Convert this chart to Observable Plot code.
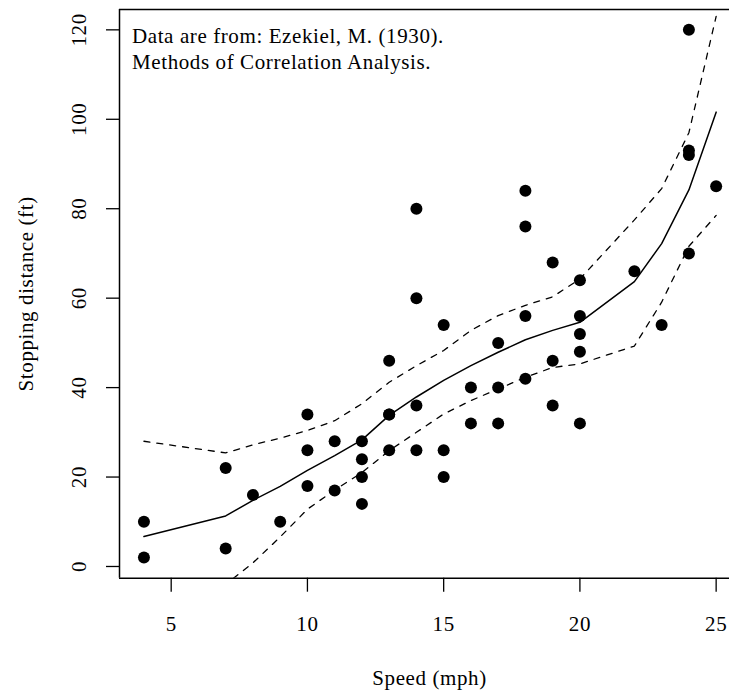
<!DOCTYPE html>
<html>
<head>
<meta charset="utf-8">
<script src="https://cdn.jsdelivr.net/npm/d3@7"></script>
<script src="https://cdn.jsdelivr.net/npm/@observablehq/plot@0.6"></script>
<style>
  html, body { margin: 0; padding: 0; background: #fff; overflow: hidden; }
  svg { display: block; }
  svg, svg text { font-family: "Liberation Serif", "DejaVu Serif", serif !important; letter-spacing: 0.6px; }
</style>
</head>
<body>
<div id="chart"></div>
<script>
// cars data (Ezekiel 1930)
const speed = [4,4,7,7,8,9,10,10,10,11,11,12,12,12,12,13,13,13,13,14,14,14,14,15,15,15,16,16,17,17,17,18,18,18,18,19,19,19,20,20,20,20,20,22,23,24,24,24,24,25];
const dist  = [2,10,4,22,16,10,18,26,34,17,28,14,20,24,28,26,34,34,46,26,36,60,80,20,26,54,32,40,32,40,50,42,56,76,84,36,46,68,32,48,52,56,64,66,54,70,92,93,120,85];

// smooth fit and band
const fitSpeed = [4,7,8,9,10,11,12,13,14,15,16,17,18,19,20,22,23,24,25];
const fitValue = [6.7,11.3,14.8,17.9,21.5,24.8,28.3,33.8,37.9,41.6,44.9,47.9,50.7,52.8,54.6,63.7,72.2,84.2,101.6];
const upperValue = [28.0,25.4,27.2,28.7,30.4,32.6,36.4,41.2,44.9,48.3,52.8,56.1,58.4,60.3,64.3,77.5,84.5,97.0,123.0];
const lowerValue = [-14.6,-4.0,0.8,6.6,12.8,17.1,21.0,25.9,30.0,34.1,37.1,39.7,42.3,44.5,45.3,49.3,59.1,71.6,78.5];

const xTicks = [5,10,15,20,25];
const yTicks = [0,20,40,60,80,100,120];

const points = speed.map((s, i) => ({speed: s, dist: dist[i]}));
const curve = fitSpeed.map((s, i) => ({speed: s, fit: fitValue[i], upper: upperValue[i], lower: lowerValue[i]}));

const xDomain = [3.103, 25.49];
const yDomain = [-2.62, 124.55];
const font = "Liberation Serif";
const fs = 21;

const chart = Plot.plot({
  width: 729,
  height: 693,
  marginLeft: 119,
  marginRight: 0,
  marginTop: 9,
  marginBottom: 115.3,
  style: {fontFamily: font, fontSize: fs + "px", background: "#fff", color: "#000"},
  x: {domain: xDomain, axis: null},
  y: {domain: yDomain, axis: null},
  marks: [
    // box (left, top, bottom)
    Plot.ruleX([xDomain[0]], {stroke: "#000", strokeWidth: 1.5}),
    Plot.ruleY([yDomain[0], yDomain[1]], {stroke: "#000", strokeWidth: 1.5}),
    // ticks
    Plot.axisX({ticks: xTicks, tickSize: 14, tickFormat: () => "", label: null, stroke: "#000", strokeWidth: 1.3}),
    Plot.axisY({ticks: yTicks, tickSize: 13, tickFormat: () => "", label: null, stroke: "#000", strokeWidth: 1.3}),
    // tick labels
    Plot.text(xTicks, {x: d => d, text: d => String(d), frameAnchor: "bottom", dy: 52.3, lineAnchor: "bottom", textAnchor: "middle", fontFamily: font, fontSize: fs, fill: "#000"}),
    Plot.text(yTicks, {y: d => d, text: d => String(d), frameAnchor: "left", dx: -34, rotate: -90, lineAnchor: "bottom", textAnchor: "middle", fontFamily: font, fontSize: fs, fill: "#000"}),
    // axis titles
    Plot.text(["Speed (mph)"], {frameAnchor: "bottom", dx: 5, dy: 106.3, lineAnchor: "bottom", textAnchor: "middle", fontFamily: font, fontSize: fs, fill: "#000"}),
    Plot.text(["Stopping distance (ft)"], {frameAnchor: "left", dx: -87, rotate: -90, lineAnchor: "bottom", textAnchor: "middle", fontFamily: font, fontSize: fs, fill: "#000"}),
    // annotation
    Plot.text(["Data are from: Ezekiel, M. (1930).\nMethods of Correlation Analysis."], {frameAnchor: "top-left", dx: 12.5, dy: 15, lineHeight: 1.25, lineAnchor: "top", textAnchor: "start", fontFamily: font, fontSize: fs, fill: "#000"}),
    // fit and band
    Plot.line(curve, {x: "speed", y: "upper", stroke: "#000", strokeWidth: 1.3, strokeDasharray: "6,7", clip: true}),
    Plot.line(curve, {x: "speed", y: "lower", stroke: "#000", strokeWidth: 1.3, strokeDasharray: "6,7", clip: true}),
    Plot.line(curve, {x: "speed", y: "fit", stroke: "#000", strokeWidth: 1.5, clip: true}),
    // points
    Plot.dot(points, {x: "speed", y: "dist", r: 6, fill: "#000", stroke: "none"})
  ]
});
document.getElementById("chart").appendChild(chart);
</script>
</body>
</html>
